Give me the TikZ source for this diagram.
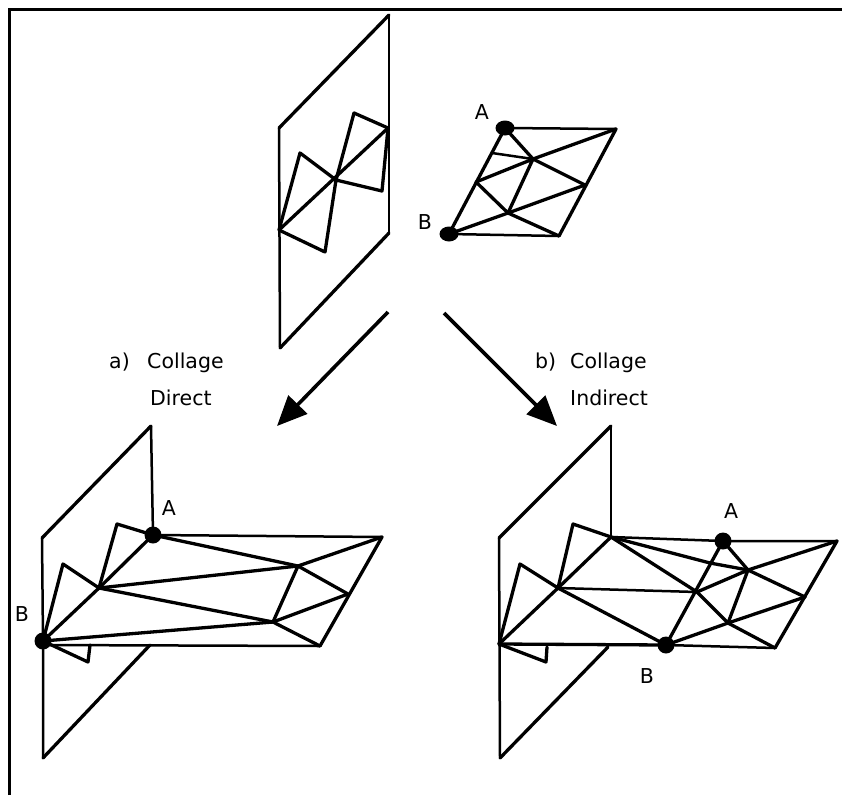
\documentclass[tikz,border=0pt]{standalone}
\usepackage{fontspec}
\setmainfont{DejaVu Sans}
\usetikzlibrary{arrows.meta,shapes.geometric}
\tikzset{
  heavy/.style={line width=3.3pt,line cap=round,line join=round,black},
  light/.style={line width=2.5pt,line cap=round,line join=round,black},
  frameline/.style={line width=3pt,black},
  bigarrow/.style={line width=3.6pt,black,-{Triangle[length=30pt,width=26pt]}},
  dot/.style={circle,fill=black,inner sep=0pt,minimum size=17pt},
  oval/.style={ellipse,fill=black,inner sep=0pt,minimum width=19pt,minimum height=15pt},
  lab/.style={inner sep=0pt,font=\fontsize{20.5}{22}\selectfont,black},
}
\begin{document}
\begin{tikzpicture}[x=1pt,y=-1pt]
\useasboundingbox (0,0) rectangle (842,795);
\fill[white] (0,0) rectangle (842,795);
% frame
\coordinate (fa) at (9,795); \coordinate (fb) at (9,9); \coordinate (fc) at (842,9);
\draw[frameline] (fa) -- (fb) -- (fc);

% ---- top plane
\coordinate (p1) at (389,15); \coordinate (p2) at (279,128);
\coordinate (p3) at (280,348); \coordinate (p4) at (389,233);
\draw[light] (p1) -- (p4);
\draw[light] (p2) -- (p3);
\draw[heavy] (p2) -- (p1);
\draw[heavy] (p3) -- (p4);
\coordinate (s1) at (279,230); \coordinate (s2) at (300,153); \coordinate (s3) at (336,180);
\coordinate (s4) at (354,113); \coordinate (s5) at (388,128); \coordinate (s6) at (382,191);
\coordinate (s7) at (325,252);
\draw[heavy] (s1) -- (s2) -- (s3) -- (s4) -- (s5) -- (s6) -- (s3) -- (s7) -- cycle;
\draw[heavy] (s1) -- (s5);

% ---- top mesh
\node[oval] (tA) at (505,128) {};
\node[oval] (tB) at (449,234) {};
\coordinate (tTR) at (616,129); \coordinate (tBR) at (559,236);
\coordinate (t1) at (533,159); \coordinate (t2) at (585,185); \coordinate (t3) at (476,182);
\coordinate (t4) at (508,213); \coordinate (t5) at (492,153);
\draw[light] (tA.center) -- (tTR);
\draw[light] (tB.center) -- (tBR);
\draw[light] (t5) -- (t1);
\draw[heavy] (tTR) -- (tBR);
\draw[heavy] (tB.center) -- (tA.center) -- (t1) -- (tTR);
\draw[heavy] (t1) -- (t2);
\draw[heavy] (t3) -- (t1) -- (t4);
\draw[heavy] (t3) -- (t4) -- (tBR);
\draw[heavy] (tB.center) -- (t4) -- (t2);
\node[lab] at (482,112) {A};
\node[lab] at (425,222) {B};

% ---- arrows
\coordinate (a1s) at (388,312); \coordinate (a1e) at (277,426);
\coordinate (a2s) at (444,313); \coordinate (a2e) at (557,426);
\draw[bigarrow] (a1s) -- (a1e);
\draw[bigarrow] (a2s) -- (a2e);

% ---- labels
\node[lab,anchor=base west] at (109,368) {a)};
\node[lab,anchor=base west] at (147,368) {Collage};
\node[lab,anchor=base west] at (150,405) {Direct};
\node[lab,anchor=base west] at (535,368) {b)};
\node[lab,anchor=base west] at (570,368) {Collage};
\node[lab,anchor=base west] at (570,405) {Indirect};

% ---- left result
\node[dot] (lA) at (153,535) {};
\node[dot] (lB) at (43,641) {};
\coordinate (lp1) at (151,426); \coordinate (lp2) at (42,538);
\coordinate (lp3) at (43,758); \coordinate (lp4) at (150,645);
\draw[light] (lp1) -- (lA.center);
\draw[light] (lp2) -- (lB.center) -- (lp3);
\draw[heavy] (lp2) -- (lp1);
\draw[heavy] (lp3) -- (lp4);
\coordinate (ls1) at (63,564); \coordinate (ls2) at (99,588); \coordinate (ls3) at (117,524);
\coordinate (ls4) at (88,662); \coordinate (ls5) at (90,645);
\draw[heavy] (lB.center) -- (ls1) -- (ls2) -- (ls3) -- (lA.center);
\draw[heavy] (lB.center) -- (ls2) -- (lA.center);
\draw[heavy] (lB.center) -- (ls4) -- (ls5);
\coordinate (lTR) at (382,537); \coordinate (lBR) at (320,646);
\coordinate (l1) at (298,566); \coordinate (l2) at (348,594); \coordinate (l4) at (273,622);
\coordinate (lBL) at (43,645);
\draw[light] (lA.center) -- (lTR);
\draw[light] (lBL) -- (lBR);
\draw[heavy] (lTR) -- (lBR);
\draw[heavy] (lA.center) -- (l1) -- (lTR);
\draw[heavy] (l1) -- (l2);
\draw[heavy] (ls2) -- (l1) -- (l4);
\draw[heavy] (ls2) -- (l4) -- (lBR);
\draw[heavy] (lB.center) -- (l4) -- (l2);
\node[lab] at (169,508) {A};
\node[lab] at (22,614) {B};

% ---- right result
\node[dot] (rA) at (723,541) {};
\node[dot] (rB) at (666,645) {};
\coordinate (rp1) at (611,426); \coordinate (rp2) at (499,538);
\coordinate (rp3) at (500,758); \coordinate (rp4) at (608,647);
\coordinate (rc) at (611,537); \coordinate (rl) at (499,644);
\draw[light] (rp1) -- (rc);
\draw[light] (rp2) -- (rp3);
\draw[heavy] (rp2) -- (rp1);
\draw[heavy] (rp3) -- (rp4);
\coordinate (rs1) at (520,564); \coordinate (rs2) at (558,588); \coordinate (rs3) at (573,524);
\coordinate (rs4) at (546,662); \coordinate (rs5) at (547,647);
\draw[heavy] (rl) -- (rs1) -- (rs2) -- (rs3) -- (rc);
\draw[heavy] (rl) -- (rs2) -- (rc);
\draw[heavy] (rl) -- (rs4) -- (rs5);
\coordinate (rTR) at (837,541); \coordinate (rBR) at (775,648);
\coordinate (r1) at (748,570); \coordinate (r2) at (805,597); \coordinate (r3) at (697,592);
\coordinate (r4) at (728,623); \coordinate (r5) at (710,563);
\draw[light] (rc) -- (rA.center) -- (rTR);
\draw[light] (rB.center) -- (rBR);
\draw[light] (rs2) -- (r3);
\draw[heavy] (rl) -- (rB.center);
\draw[heavy] (rTR) -- (rBR);
\draw[heavy] (rB.center) -- (rA.center) -- (r1) -- (rTR);
\draw[heavy] (rc) -- (r5) -- (r1);
\draw[heavy] (rc) -- (r3);
\draw[heavy] (rs2) -- (rB.center);
\draw[heavy] (r1) -- (r2);
\draw[heavy] (r3) -- (r1) -- (r4);
\draw[heavy] (r3) -- (r4) -- (rBR);
\draw[heavy] (rB.center) -- (r4) -- (r2);
\node[lab] at (731,511) {A};
\node[lab] at (647,676) {B};
\end{tikzpicture}
\end{document}
